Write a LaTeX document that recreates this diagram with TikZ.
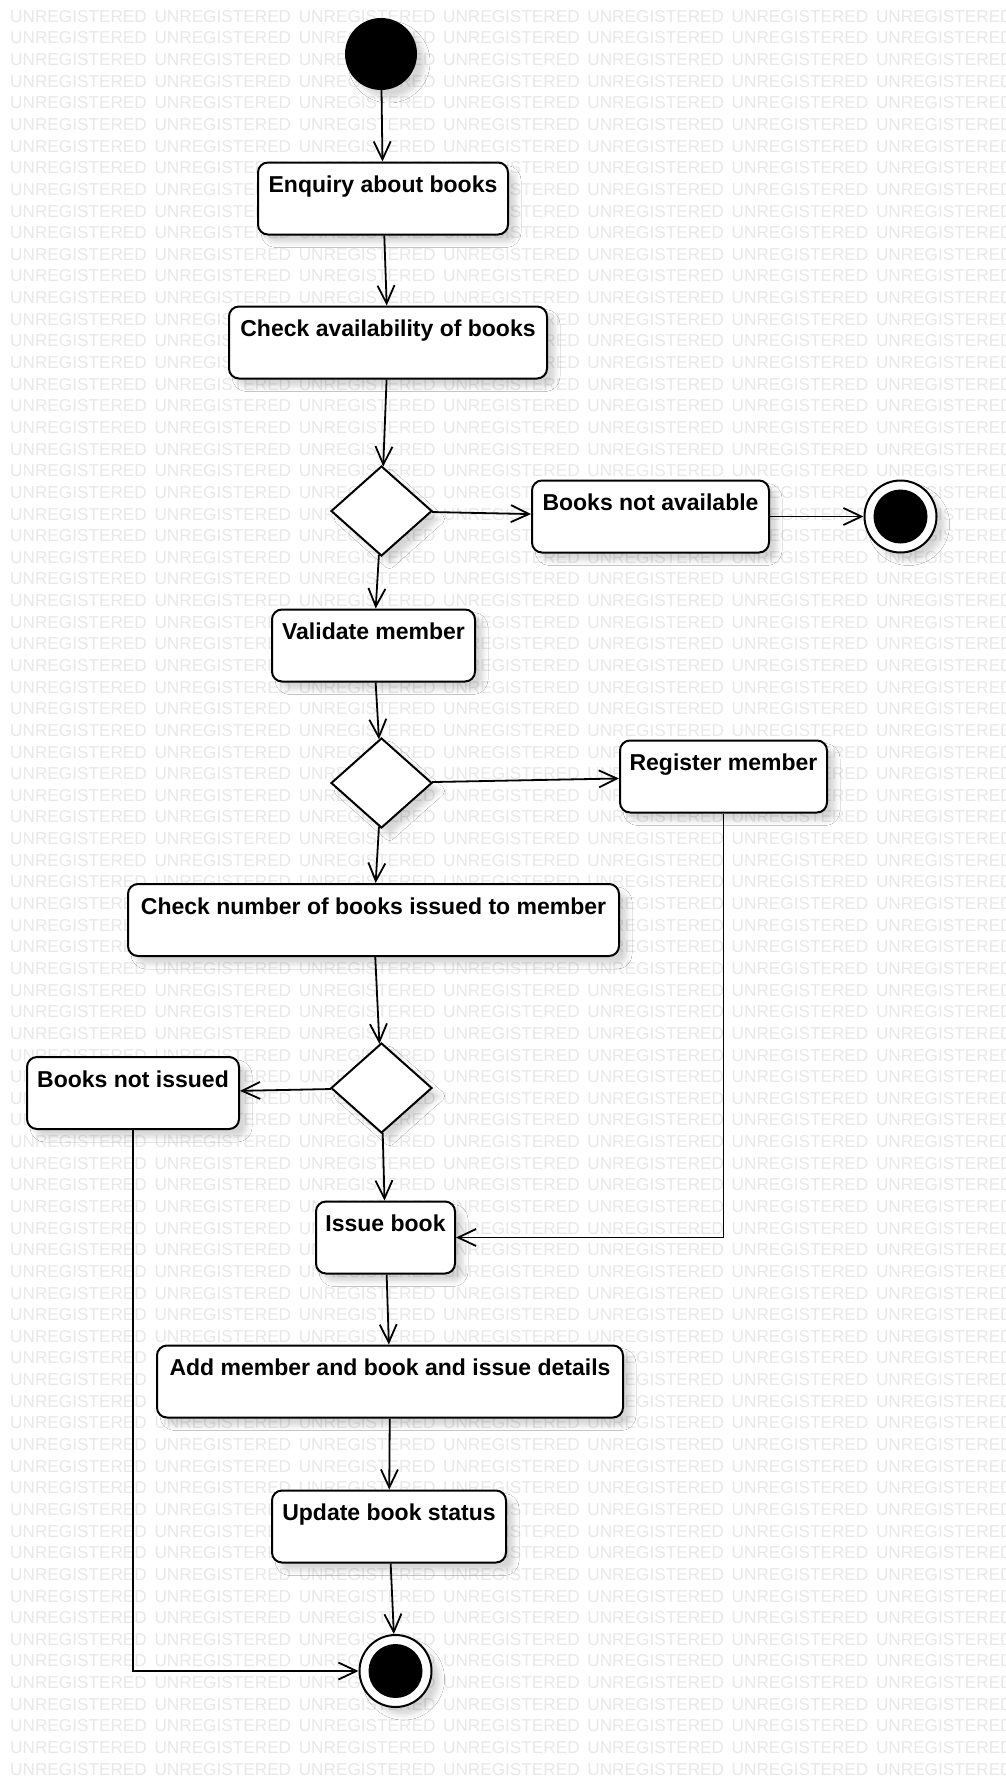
\documentclass[tikz,border=0pt]{standalone}
\usepackage{fontspec}
\setmainfont{Liberation Sans}
\usetikzlibrary{shapes.geometric, arrows.meta, shadows.blur, calc}

\begin{document}
\begin{tikzpicture}[x=1pt, y=-1pt,
  every node/.style={font=\fontsize{23}{27}\selectfont\bfseries},
  softshadow/.style={blur shadow={shadow xshift=8pt, shadow yshift=-8pt,
      shadow blur radius=5pt, shadow opacity=16}},
  act/.style={draw, line width=2pt, rounded corners=10pt, fill=white, softshadow,
      inner xsep=0pt, inner ysep=0pt, text height=30pt, text depth=42pt, align=center},
  decision/.style={diamond, draw, line width=2pt, fill=white, softshadow,
      minimum width=101pt, minimum height=90pt, inner sep=0pt},
  initial/.style={circle, fill=black, minimum size=72pt, inner sep=0pt, softshadow},
  final/.style={circle, draw, line width=2pt, fill=white, minimum size=72pt,
      inner sep=0pt, softshadow,
      path picture={\fill[black] (path picture bounding box.center) circle[radius=27pt];}},
  flow/.style={draw, line width=1.8pt, -{Straight Barb[length=18pt, width=17pt]}},
  wm/.style={font=\fontsize{17.2}{20}\selectfont, text=black!9, inner sep=0pt, anchor=base west}
]
% canvas
\fill[white] (0,0) rectangle (1006,1777);
\useasboundingbox (0,0) rectangle (1006,1777);

% background watermark
\begin{scope}
  \clip (0,0) rectangle (1006,1777);
  \foreach \r in {0,...,81}
    \foreach \c in {0,...,6}
      \node[wm] at (10+144.3*\c, 22.3+21.64*\r) {UNREGISTERED};
\end{scope}

% nodes
\node[initial] (start) at (381,54) {};
\node[act, minimum width=250pt] (enq)   at (383,198.5)   {Enquiry about books};
\node[act, minimum width=318pt] (avail) at (388,342.5)   {Check availability of books};
\node[decision] (d1) at (381.5,511) {};
\node[act, minimum width=237pt] (bna)   at (650.5,516.5) {Books not available};
\node[final] (end1) at (900.5,516.5) {};
\node[act, minimum width=203pt] (val)   at (373.5,645.5) {Validate member};
\node[decision] (d2) at (381.5,783) {};
\node[act, minimum width=207pt] (reg)   at (723.5,776.5) {Register member};
\node[act, minimum width=491pt] (chk)   at (373.5,920)   {Check number of books issued to member};
\node[decision] (d3) at (381.5,1088) {};
\node[act, minimum width=212pt] (bni)   at (133,1093)    {Books not issued};
\node[act, minimum width=139pt] (iss)   at (385.5,1237.5) {Issue book};
\node[act, minimum width=466pt] (add)   at (390,1381.5)  {Add member and book and issue details};
\node[act, minimum width=234pt] (upd)   at (389,1526.5)  {Update book status};
\node[final] (end2) at (395.5,1671) {};

% control flow
\draw[flow] (start) -- (enq);
\draw[flow] (enq) -- (avail);
\draw[flow] (avail) -- (d1);
\draw[flow] (d1) -- (bna);
\draw[flow] (bna) -- (end1);
\draw[flow] (d1) -- (val);
\draw[flow] (val) -- (d2);
\draw[flow] (d2) -- (reg);
\draw[flow] (d2) -- (chk);
\draw[flow] (chk) -- (d3);
\draw[flow] (d3) -- (bni);
\draw[flow] (d3) -- (iss);
\draw[flow] (reg.south) |- (iss.east);
\draw[flow] (iss) -- (add);
\draw[flow] (add) -- (upd);
\draw[flow] (upd) -- (end2);
\draw[flow] (bni.south) |- (end2.west);
\end{tikzpicture}
\end{document}
